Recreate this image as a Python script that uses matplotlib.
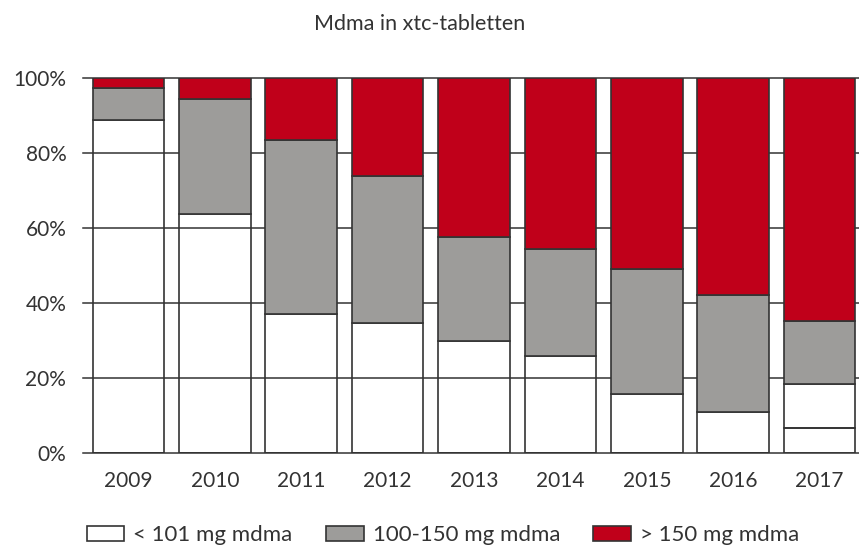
import matplotlib.pyplot as plt
from matplotlib.patches import Patch

# Data (percent of tablets)
years = ['2009', '2010', '2011', '2012', '2013', '2014', '2015', '2016', '2017']
low = [88.8, 63.7, 37.2, 34.8, 29.9, 25.9, 15.7, 11.0, 18.4]      # < 101 mg
mid = [8.6, 30.6, 46.3, 39.1, 27.8, 28.5, 33.4, 31.1, 16.7]       # 100-150 mg
high = [2.6, 5.7, 16.5, 26.1, 42.3, 45.6, 50.9, 57.9, 64.9]       # > 150 mg
low_split = [0, 0, 0, 0, 0, 0, 0, 0, 6.7]                         # extra line in 2017 white segment

labels = ['< 101 mg mdma', '100-150 mg mdma', '> 150 mg mdma']

edge = '#333333'
grey = '#9d9c9a'
red = '#c0001a'

plt.rcParams['font.family'] = ['Lato', 'DejaVu Sans']

fig = plt.figure(figsize=(8.59, 5.49), dpi=100)
ax = fig.add_axes([83 / 859, 96 / 549, 1 - 83 / 859, 375 / 549])

x = list(range(len(years)))
w = 0.83
lw = 1.2

# white segment split into two parts (only 2017 has a visible split)
upper_low = [a - b for a, b in zip(low, low_split)]
ax.bar(x, low_split, w, facecolor='none', edgecolor=edge, linewidth=lw, zorder=3)
ax.bar(x, upper_low, w, bottom=low_split, facecolor='none', edgecolor=edge, linewidth=lw, zorder=3)
ax.bar(x, mid, w, bottom=low, facecolor=grey, edgecolor=edge, linewidth=lw, zorder=3)
bottom_high = [a + b for a, b in zip(low, mid)]
ax.bar(x, high, w, bottom=bottom_high, facecolor=red, edgecolor=edge, linewidth=lw, zorder=3)

ax.set_xlim(-0.527, 8.457)
ax.set_ylim(0, 100)
ax.set_yticks([0, 20, 40, 60, 80, 100])
ax.set_yticklabels(['0%', '20%', '40%', '60%', '80%', '100%'])
ax.set_xticks(x)
ax.set_xticklabels(years)

for yv in [0, 20, 40, 60, 80, 100]:
    ax.axhline(yv, color=edge, linewidth=1.1, zorder=1, clip_on=False)

for s in ax.spines.values():
    s.set_visible(False)
ax.tick_params(axis='both', length=0, colors='#333333')
ax.tick_params(axis='y', pad=12, labelsize=15)
ax.tick_params(axis='x', pad=13, labelsize=15)

fig.text(420 / 859, 1 - 24 / 549, 'Mdma in xtc-tabletten', ha='center', va='center',
         fontsize=15.5, color='#333333')

handles = [Patch(facecolor='white', edgecolor=edge, linewidth=lw),
           Patch(facecolor=grey, edgecolor=edge, linewidth=lw),
           Patch(facecolor=red, edgecolor=edge, linewidth=lw)]
leg = fig.legend(handles, labels, loc='center', ncol=3, frameon=False,
                 bbox_to_anchor=(443 / 859, 1 - 535 / 549), fontsize=16,
                 handlelength=1.7, handleheight=0.68, handletextpad=0.4, columnspacing=1.5,
                 borderaxespad=0, borderpad=0)
for t in leg.get_texts():
    t.set_color('#333333')

fig.savefig('out.png', dpi=100)
